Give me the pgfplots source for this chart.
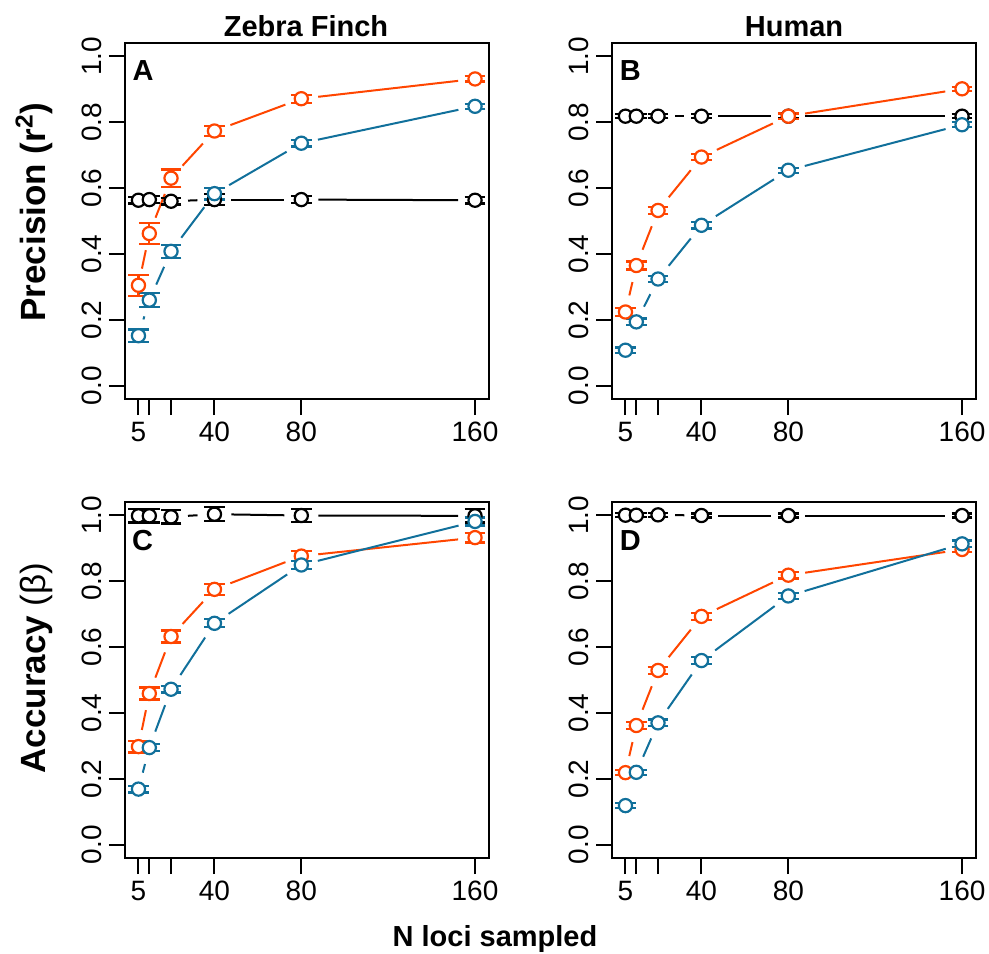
\documentclass[border=0pt]{standalone}
\usepackage{pgfplots}
\pgfplotsset{compat=1.18}
\usepackage{pgfplotstable}
\usepackage{fontspec}
\setmainfont{Liberation Sans}
\definecolor{cor}{RGB}{255,69,0}
\definecolor{cbl}{RGB}{17,112,155}

% x = N loci; yb/eb black, yo/eo orange, yu/eu blue
\pgfplotstableread{
x   yb    eb    yo    eo    yu    eu
5   0.563 0.010 0.305 0.032 0.152 0.019
10  0.565 0.010 0.462 0.031 0.260 0.021
20  0.560 0.010 0.630 0.026 0.408 0.020
40  0.565 0.016 0.773 0.015 0.583 0.018
80  0.565 0.010 0.871 0.012 0.736 0.010
160 0.563 0.010 0.931 0.008 0.848 0.008
}\tabA
\pgfplotstableread{
x   yb    eb    yo    eo    yu    eu
5   0.818 0.006 0.224 0.012 0.108 0.008
10  0.818 0.006 0.365 0.012 0.194 0.010
20  0.818 0.006 0.532 0.010 0.324 0.010
40  0.818 0.006 0.694 0.010 0.487 0.010
80  0.818 0.006 0.818 0.008 0.654 0.008
160 0.818 0.006 0.901 0.006 0.792 0.008
}\tabB
\pgfplotstableread{
x   yb    eb    yo    eo    yu    eu
5   0.998 0.020 0.298 0.018 0.169 0.010
10  0.998 0.020 0.459 0.018 0.295 0.010
20  0.995 0.020 0.632 0.018 0.472 0.010
40  1.003 0.021 0.775 0.016 0.672 0.012
80  0.999 0.020 0.876 0.015 0.849 0.012
160 0.998 0.020 0.932 0.015 0.981 0.012
}\tabC
\pgfplotstableread{
x   yb    eb    yo    eo    yu    eu
5   1.000 0.006 0.219 0.008 0.119 0.008
10  1.000 0.006 0.362 0.010 0.220 0.008
20  1.001 0.006 0.529 0.010 0.370 0.010
40  0.999 0.006 0.693 0.010 0.559 0.010
80  0.999 0.006 0.818 0.010 0.755 0.010
160 0.999 0.006 0.896 0.008 0.913 0.010
}\tabD

% line segments between consecutive points, with gaps round the points (R type="b")
\newcommand{\gapline}[3]{%
  \pgfplotstablegetrowsof{#1}%
  \pgfmathtruncatemacro\glN{\pgfplotsretval-2}%
  \foreach \gi in {0,...,\glN}{%
    \pgfplotstablegetelem{\gi}{x}\of{#1}\let\glxa\pgfplotsretval
    \pgfplotstablegetelem{\gi}{#2}\of{#1}\let\glya\pgfplotsretval
    \pgfmathtruncatemacro\gj{\gi+1}%
    \pgfplotstablegetelem{\gj}{x}\of{#1}\let\glxb\pgfplotsretval
    \pgfplotstablegetelem{\gj}{#2}\of{#1}\let\glyb\pgfplotsretval
    \pgfmathsetmacro\gld{veclen(2.171*(\glxb-\glxa),328.7*(\glyb-\glya))}%
    \ifdim\gld pt>36pt
      \edef\gltmp{\noexpand\addplot[#3,line width=1bp,shorten <=8.5bp,shorten >=8.5bp] coordinates {(\glxa,\glya) (\glxb,\glyb)};}%
      \gltmp
    \fi
  }%
}
\newcommand{\pts}[4]{%
  \addplot[only marks, mark=*, mark size=3.3bp,
    mark options={fill=white, draw=#4, line width=1.1bp},
    error bars/.cd, y dir=both, y explicit,
    error bar style={draw=#4, line width=1.1bp},
    error mark options={rotate=90, draw=#4, line width=1.1bp, mark size=5.2bp}]
    table[x=x, y=#2, y error=#3]{#1};}
\newcommand{\panel}[1]{%
  \gapline{#1}{yb}{black}
  \gapline{#1}{yo}{cor}
  \gapline{#1}{yu}{cbl}
  \pts{#1}{yb}{eb}{black}
  \pts{#1}{yo}{eo}{cor}
  \pts{#1}{yu}{eu}{cbl}
}

\pgfplotsset{panel/.style={
  scale only axis, width=181.75bp, height=178bp,
  anchor=south west,
  xmin=-1.2, xmax=166.2, ymin=-0.04, ymax=1.04,
  xtick={5,10,20,40,80,160}, xticklabels={5,,,40,80,160},
  ytick={0,0.2,0.4,0.6,0.8,1.0}, yticklabels={0.0,0.2,0.4,0.6,0.8,1.0},
  tick align=outside, tick pos=left, major tick length=8bp,
  axis line style={line width=1bp},
  every tick/.style={black, line width=1bp},
  ticklabel style={font=\fontsize{14bp}{16bp}\selectfont},
  yticklabel style={rotate=90, anchor=south},
  xticklabel style={anchor=north},
}}

\begin{document}
\begin{tikzpicture}
\path[use as bounding box] (0,0) rectangle (494.5bp,-477bp);
\begin{axis}[panel, at={(62.5bp,-199.5bp)}]
\panel{\tabA}
\end{axis}
\begin{axis}[panel, at={(306bp,-199.5bp)}]
\panel{\tabB}
\end{axis}
\begin{axis}[panel, at={(62.5bp,-429bp)}]
\panel{\tabC}
\end{axis}
\begin{axis}[panel, at={(306bp,-429bp)}]
\panel{\tabD}
\end{axis}
\tikzset{bt/.style={font=\bfseries\fontsize{14.5bp}{17bp}\selectfont}}
\node[bt, anchor=base] at (153bp,-18bp) {Zebra Finch};
\node[bt, anchor=base] at (397bp,-18bp) {Human};
\node[bt, anchor=base] at (247.5bp,-473bp) {N loci sampled};
\node[bt] at (71.5bp,-35.3bp) {A};
\node[bt] at (315.2bp,-35.3bp) {B};
\node[bt] at (71.3bp,-270.3bp) {C};
\node[bt] at (315.2bp,-270.3bp) {D};
\node[rotate=90, anchor=base, font=\bfseries\fontsize{17.5bp}{20bp}\selectfont] at (22.5bp,-106bp) {Precision (r\textsuperscript{2})};
\node[rotate=90, anchor=base, font=\bfseries\fontsize{17.5bp}{20bp}\selectfont] at (22.5bp,-334bp) {Accuracy \mdseries(β)};
\end{tikzpicture}
\end{document}
